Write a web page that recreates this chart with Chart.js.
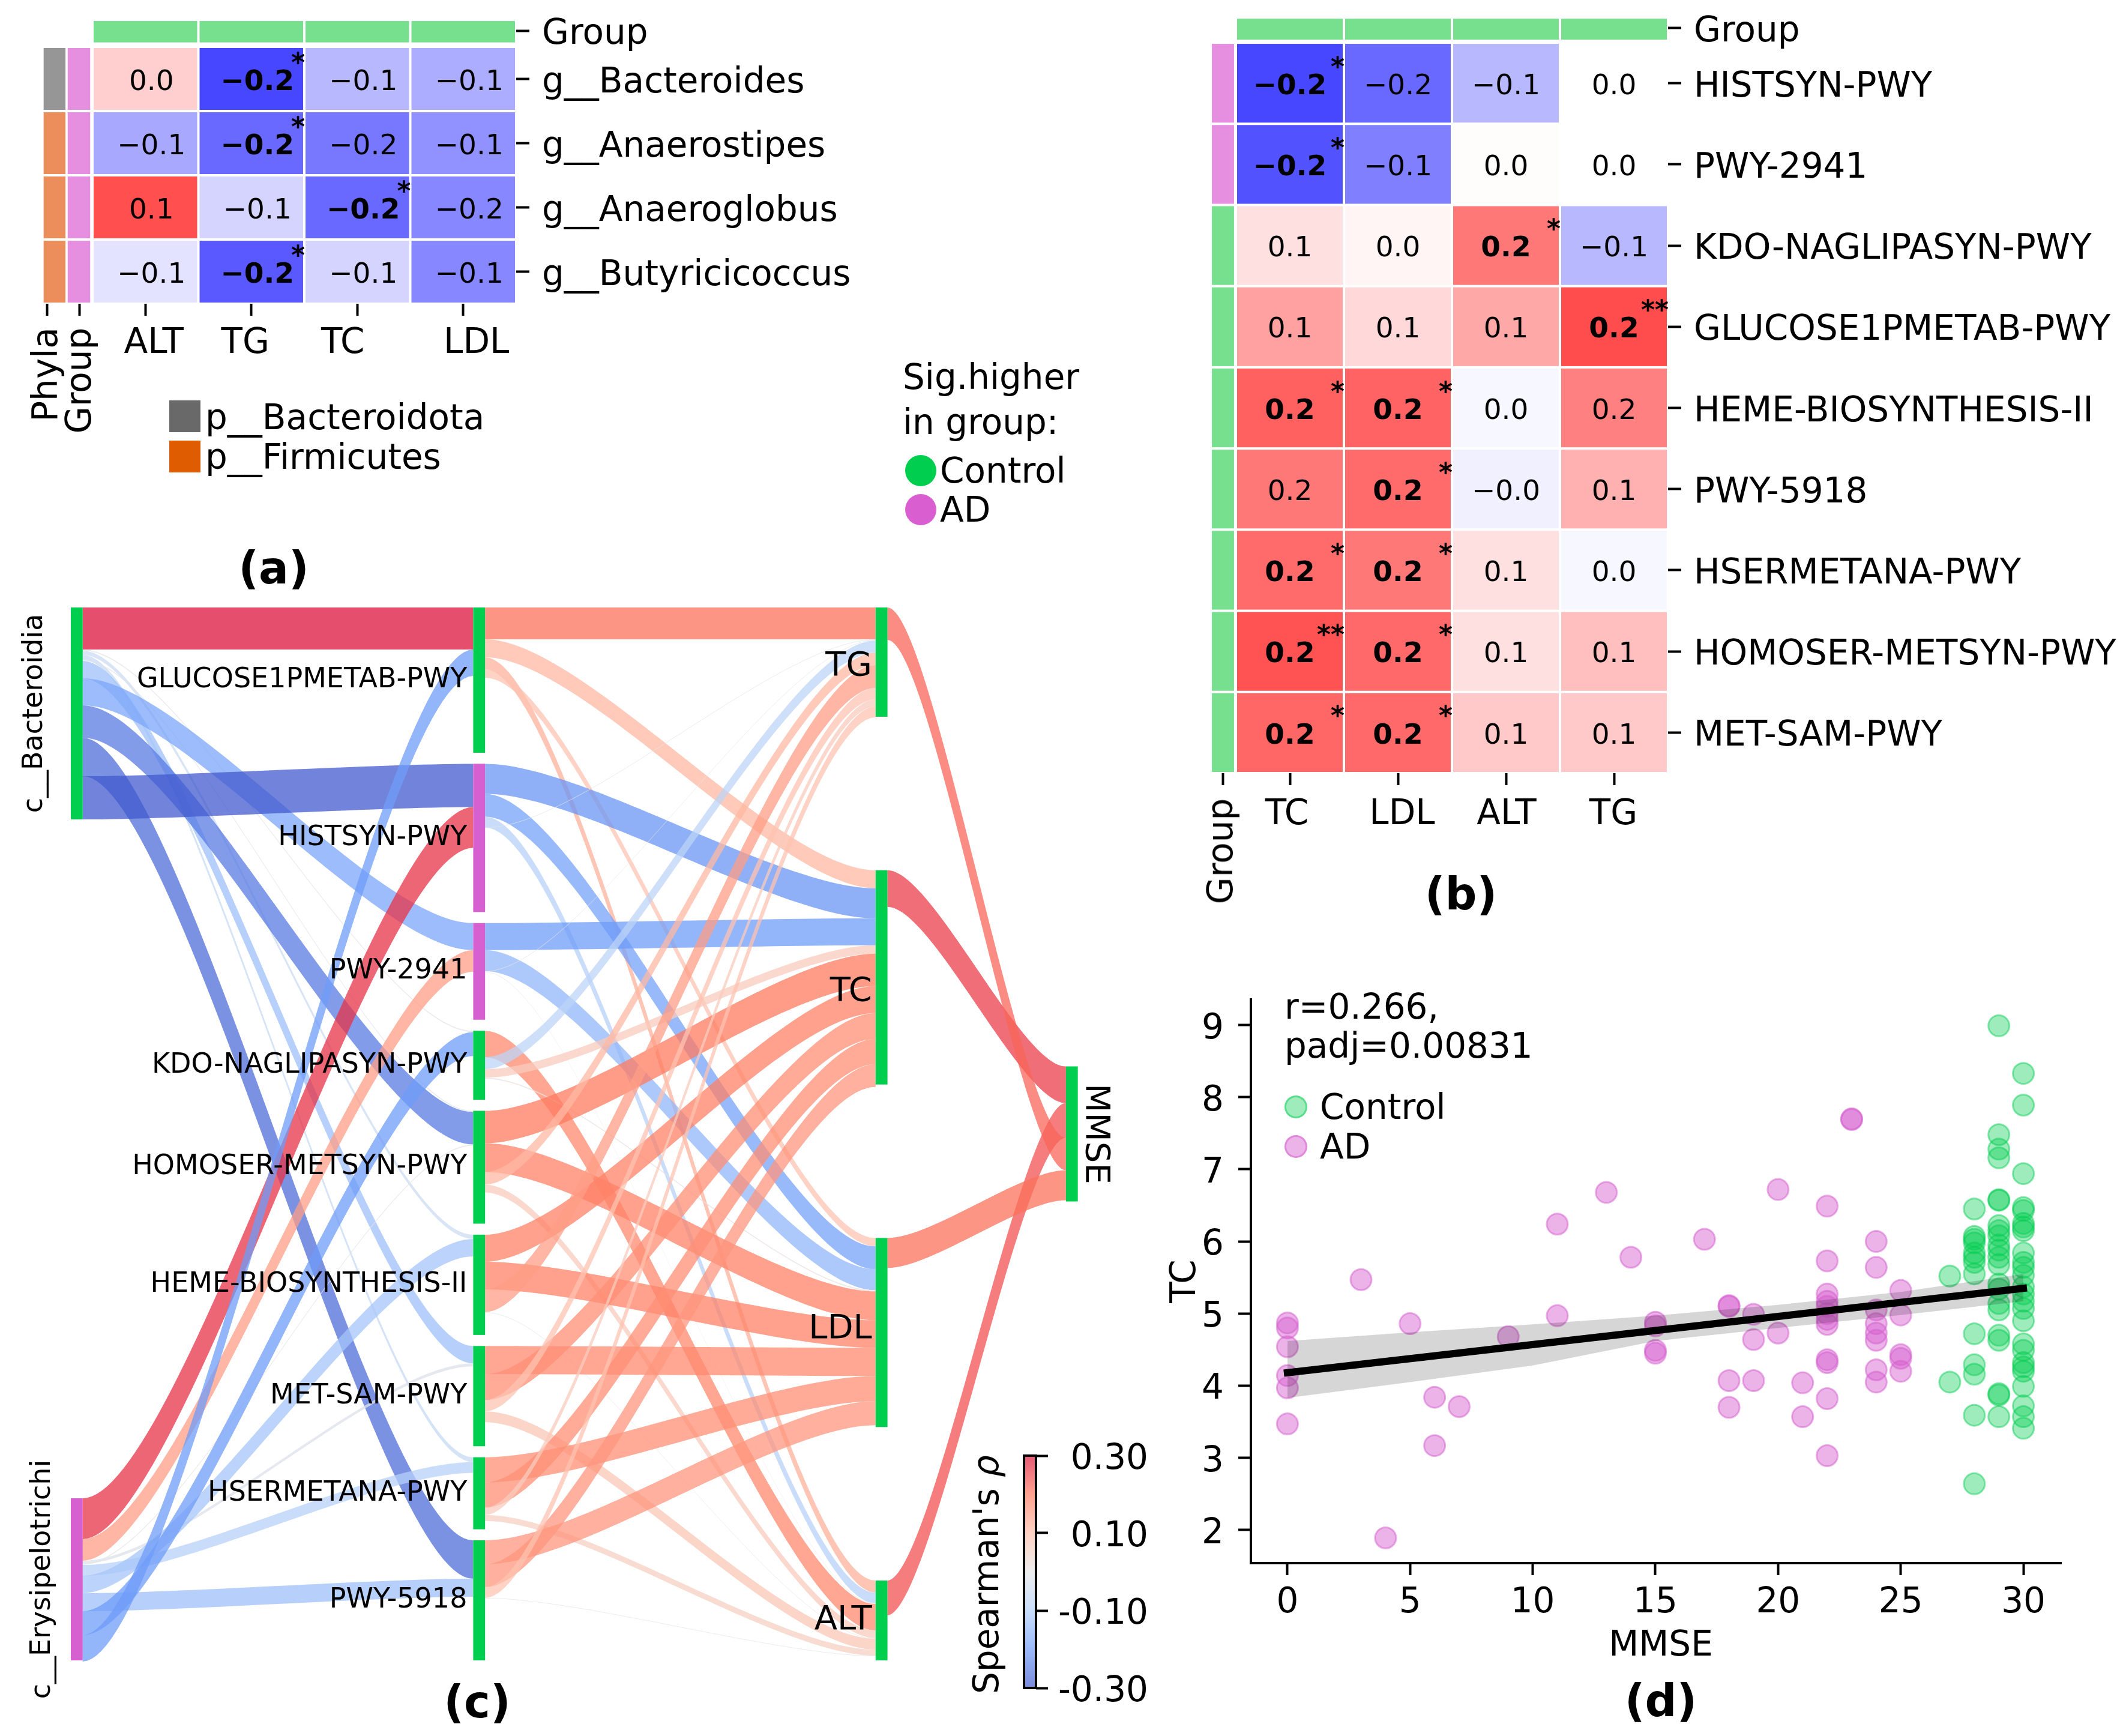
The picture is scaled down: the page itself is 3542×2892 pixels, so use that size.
<!DOCTYPE html>
<html lang="en">
<head>
<meta charset="UTF-8">
<title>Gut microbiome, pathways, lipids and MMSE</title>
<script src="https://cdn.jsdelivr.net/npm/chart.js"></script>
<style>
  html, body { margin: 0; padding: 0; background: #fff; }
  body { position: relative; width: 3542px; height: 2892px; overflow: hidden; font-family: "DejaVu Sans", sans-serif; color: #000; }
  canvas { position: absolute; }
  .t { position: absolute; font-size: 58px; line-height: 1; white-space: nowrap; transform: translate(0, -50%); }
  .c { position: absolute; font-size: 58px; line-height: 1; white-space: nowrap; transform: translate(-50%, -50%); }
  .v { position: absolute; font-size: 58px; line-height: 1; white-space: nowrap; transform: translate(-50%, -50%) rotate(-90deg); }
  .panel { position: absolute; font-size: 74px; font-weight: bold; line-height: 1; transform: translate(-50%, -50%); }
  .sq { position: absolute; width: 52px; height: 53px; }
  .dot { position: absolute; border-radius: 50%; transform: translate(-50%, -50%); box-sizing: border-box; }
</style>
</head>
<body>
<canvas id="heatA" width="1500" height="640" style="left:0;top:-40px"></canvas>
<canvas id="heatB" width="1592" height="1580" style="left:1950px;top:-40px"></canvas>
<canvas id="sankey" width="1960" height="1880" style="left:0;top:1000px"></canvas>
<canvas id="colorbar" width="340" height="500" style="left:1620px;top:2365px"></canvas>
<canvas id="scatter" width="1560" height="1180" style="left:1940px;top:1600px"></canvas>

<div class="v" style="left:75px;top:624px">Phyla</div>
<div class="v" style="left:131px;top:634px">Group</div>
<div class="sq" style="left:282px;top:667px;background:#696969"></div>
<div class="t" style="left:342px;top:695px">p__Bacteroidota</div>
<div class="sq" style="left:282px;top:734px;background:#e05c00"></div>
<div class="t" style="left:342px;top:761px">p__Firmicutes</div>
<div class="panel" style="left:456px;top:946px">(a)</div>

<div class="t" style="left:1504px;top:628px">Sig.higher</div>
<div class="t" style="left:1504px;top:703px">in group:</div>
<div class="dot" style="left:1534px;top:784px;width:52px;height:52px;background:#00ce4e"></div>
<div class="t" style="left:1566px;top:784px">Control</div>
<div class="dot" style="left:1534px;top:849px;width:52px;height:52px;background:#d95fd0"></div>
<div class="t" style="left:1566px;top:849px">AD</div>

<div class="v" style="left:2033px;top:1418px">Group</div>
<div class="panel" style="left:2434px;top:1489px">(b)</div>

<div class="panel" style="left:795px;top:2835px">(c)</div>
<div class="v" style="left:1643px;top:2623px">Spearman's <i>ρ</i></div>

<div class="t" style="left:2140px;top:1677px">r=0.266,</div>
<div class="t" style="left:2140px;top:1742px">padj=0.00831</div>
<div class="dot" style="left:2159px;top:1844px;width:38px;height:38px;background:rgba(0,204,79,.38);border:3px solid rgba(0,204,79,.45)"></div>
<div class="t" style="left:2199px;top:1844px">Control</div>
<div class="dot" style="left:2159px;top:1910px;width:38px;height:38px;background:rgba(214,96,207,.48);border:3px solid rgba(214,96,207,.5)"></div>
<div class="t" style="left:2199px;top:1910px">AD</div>
<div class="c" style="left:2767px;top:2738px">MMSE</div>
<div class="panel" style="left:2767px;top:2833px">(d)</div>

<script>
// ---- panel (a) heatmap
const genera = ['g__Bacteroides', 'g__Anaerostipes', 'g__Anaeroglobus', 'g__Butyricicoccus'];
const colsA = ['ALT', 'TG', 'TC', 'LDL'];
const shadeA = [
  [0.19, -0.72, -0.28, -0.32],
  [-0.34, -0.59, -0.53, -0.43],
  [0.69, -0.17, -0.59, -0.47],
  [-0.11, -0.65, -0.17, -0.47]
];
const textA = [
  ['0.0', '−0.2', '−0.1', '−0.1'],
  ['−0.1', '−0.2', '−0.2', '−0.1'],
  ['0.1', '−0.1', '−0.2', '−0.2'],
  ['−0.1', '−0.2', '−0.1', '−0.1']
];
const sigA = [
  ['', '*', '', ''],
  ['', '*', '', ''],
  ['', '', '*', ''],
  ['', '*', '', '']
];
const phylaA = ['Bacteroidota', 'Firmicutes', 'Firmicutes', 'Firmicutes'];
const groupA = ['AD', 'AD', 'AD', 'AD'];

// ---- panel (b) heatmap
const pathways = ['HISTSYN-PWY', 'PWY-2941', 'KDO-NAGLIPASYN-PWY', 'GLUCOSE1PMETAB-PWY', 'HEME-BIOSYNTHESIS-II',
  'PWY-5918', 'HSERMETANA-PWY', 'HOMOSER-METSYN-PWY', 'MET-SAM-PWY'];
const colsB = ['TC', 'LDL', 'ALT', 'TG'];
const shadeB = [
  [-0.72, -0.59, -0.28, 0],
  [-0.68, -0.5, 0.01, 0],
  [0.12, 0.04, 0.53, -0.28],
  [0.37, 0.15, 0.34, 0.7],
  [0.62, 0.61, -0.03, 0.5],
  [0.53, 0.58, -0.06, 0.31],
  [0.58, 0.53, 0.12, -0.03],
  [0.68, 0.59, 0.12, 0.25],
  [0.6, 0.59, 0.21, 0.21]
];
const textB = [
  ['−0.2', '−0.2', '−0.1', '0.0'],
  ['−0.2', '−0.1', '0.0', '0.0'],
  ['0.1', '0.0', '0.2', '−0.1'],
  ['0.1', '0.1', '0.1', '0.2'],
  ['0.2', '0.2', '0.0', '0.2'],
  ['0.2', '0.2', '−0.0', '0.1'],
  ['0.2', '0.2', '0.1', '0.0'],
  ['0.2', '0.2', '0.1', '0.1'],
  ['0.2', '0.2', '0.1', '0.1']
];
const sigB = [
  ['*', '', '', ''],
  ['*', '', '', ''],
  ['', '', '*', ''],
  ['', '', '', '**'],
  ['*', '*', '', ''],
  ['', '*', '', ''],
  ['*', '*', '', ''],
  ['**', '*', '', ''],
  ['*', '*', '', '']
];
const groupB = ['AD', 'AD', 'Control', 'Control', 'Control', 'Control', 'Control', 'Control', 'Control'];

// ---- panel (c) sankey
const nodeNames = ['c__Bacteroidia', 'c__Erysipelotrichi',
  'GLUCOSE1PMETAB-PWY', 'HISTSYN-PWY', 'PWY-2941', 'KDO-NAGLIPASYN-PWY', 'HOMOSER-METSYN-PWY',
  'HEME-BIOSYNTHESIS-II', 'MET-SAM-PWY', 'HSERMETANA-PWY', 'PWY-5918',
  'TG', 'TC', 'LDL', 'ALT', 'MMSE'];
const nodeColumn = [0, 0, 1, 1, 1, 1, 1, 1, 1, 1, 1, 2, 2, 2, 2, 3];
const nodeGroup = ['Control', 'AD', 'Control', 'AD', 'AD', 'Control', 'Control', 'Control', 'Control', 'Control', 'Control',
  'Control', 'Control', 'Control', 'Control', 'Control'];
const nodeSize = [353, 270, 242, 247, 161, 115, 188, 167, 167, 120, 200, 182, 357, 315, 133, 225];
// one entry per ribbon, listed in the order they leave their source
const flowSource = [
  0, 0, 0, 0, 0, 0, 0, 0, 0, 0,
  1, 1, 1, 1, 1, 1, 1, 1, 1,
  2, 2, 2, 2, 3, 3, 3, 3, 4, 4, 4, 4, 5, 5, 5, 5, 6, 6, 6, 6,
  7, 7, 7, 7, 8, 8, 8, 8, 9, 9, 9, 9, 10, 10, 10, 10,
  12, 14, 11, 13];
const flowTarget = [
  2, 5, 7, 9, 6, 8, 4, 6, 10, 3,
  3, 4, 8, 6, 9, 7, 10, 5, 2,
  11, 12, 14, 13, 12, 13, 14, 11, 12, 13, 11, 14, 14, 11, 12, 13, 12, 13, 11, 14,
  12, 13, 11, 14, 13, 12, 11, 14, 13, 12, 11, 14, 13, 12, 11, 14,
  15, 15, 15, 15];
const flowSize = [
  70, 2, 7, 8, 2, 29, 45, 54, 64, 72,
  68, 36, 5, 2, 18, 29, 30, 40, 44,
  53, 30, 20, 14, 50, 38, 18, 1, 45, 35, 1, 1, 44, 20, 14, 2, 54, 48, 21, 13,
  45, 46, 38, 1, 47, 43, 19, 18, 42, 42, 12, 10, 40, 38, 18, 1,
  61, 58, 54, 50];
const flowRho = [
  0.30, -0.01, -0.05, -0.06, -0.01, -0.13, -0.18, -0.25, -0.27, -0.30,
  0.27, 0.15, -0.02, 0, -0.09, -0.12, -0.13, -0.20, -0.20,
  0.21, 0.11, 0.12, 0.09, -0.21, -0.19, -0.09, -0.01, -0.20, -0.15, 0, 0, 0.18, -0.08, 0.07, 0.01, 0.20, 0.19, 0.11, 0.07,
  0.19, 0.19, 0.15, 0, 0.18, 0.17, 0.09, 0.08, 0.17, 0.17, 0.07, 0.06, 0.16, 0.16, 0.09, 0,
  0.26, 0.24, 0.22, 0.21];
const cbarTicks = [0.3, 0.1, -0.1, -0.3];
const cbarLabels = ['0.30', '0.10', '-0.10', '-0.30'];
const rhoStops = [-0.3, -0.2, -0.1, 0, 0.1, 0.2, 0.3];
const rhoRgb = [[65, 90, 205], [111, 156, 248], [178, 208, 251], [230, 230, 230], [255, 191, 170], [255, 123, 96], [220, 20, 60]];

// ---- panel (d) scatter
const adMmse = [0, 0, 0, 0, 0, 0, 3, 4, 5, 6, 6, 7, 9, 11, 11, 13, 14, 15, 15, 15, 15, 17,
  18, 18, 18, 18, 19, 19, 19, 20, 20, 21, 21,
  22, 22, 22, 22, 22, 22, 22, 22, 22, 22, 22, 22, 23, 23,
  24, 24, 24, 24, 24, 24, 24, 24, 25, 25, 25, 25, 25];
const adTc = [4.87, 4.80, 4.54, 4.14, 3.97, 3.47, 5.47, 1.89, 4.86, 3.84, 3.17, 3.71, 4.68, 6.24, 4.97, 6.68, 5.78, 4.88, 4.83, 4.49, 4.45, 6.03,
  5.11, 5.10, 4.07, 3.70, 4.99, 4.64, 4.07, 6.72, 4.73, 4.04, 3.57,
  6.49, 5.73, 5.27, 5.17, 5.10, 5.00, 4.92, 4.85, 4.36, 4.32, 3.82, 3.03, 7.69, 7.70,
  6.00, 5.64, 5.05, 4.86, 4.73, 4.63, 4.22, 4.05, 5.32, 4.98, 4.43, 4.38, 4.20];
const ctrlMmse = [27, 27,
  28, 28, 28, 28, 28, 28, 28, 28, 28, 28, 28, 28, 28,
  29, 29, 29, 29, 29, 29, 29, 29, 29, 29, 29, 29, 29, 29, 29, 29, 29, 29, 29, 29, 29, 29,
  30, 30, 30, 30, 30, 30, 30, 30, 30, 30, 30, 30, 30, 30, 30, 30, 30, 30, 30, 30, 30, 30, 30, 30, 30, 30];
const ctrlTc = [5.52, 4.05,
  6.45, 6.07, 6.03, 5.98, 5.84, 5.78, 5.71, 5.55, 4.72, 4.29, 4.16, 3.59, 2.64,
  8.99, 7.48, 7.28, 7.16, 6.58, 6.57, 6.22, 6.15, 6.08, 5.95, 5.88, 5.78, 5.68, 5.41, 5.34, 5.14, 5.05, 4.70, 4.63, 3.89, 3.87, 3.57,
  8.33, 7.89, 6.94, 6.47, 6.43, 6.25, 6.20, 6.15, 5.84, 5.71, 5.64, 5.53, 5.37, 5.27, 5.17, 5.07, 4.90, 4.58, 4.49, 4.32, 4.26, 4.20, 3.99, 3.72, 3.57, 3.41];
const fitMmse = [0, 30];
const fitTc = [4.18, 5.35];
const ciMmse = [0, 5, 10, 15, 20, 25, 30];
const ciUpper = [4.62, 4.74, 4.85, 4.97, 5.12, 5.30, 5.55];
const ciLower = [3.83, 4.05, 4.28, 4.62, 4.80, 4.98, 5.17];
const mmseTicks = [0, 5, 10, 15, 20, 25, 30];
const tcTicks = [2, 3, 4, 5, 6, 7, 8, 9];

// ---- colours
const groupColor = { Control: '#77e08f', AD: '#e68fe0' };
const nodeColor = { Control: '#00ce4e', AD: '#d660cf' };
const phylaColor = { Bacteroidota: '#969696', Firmicutes: '#eb8e5c' };

Chart.defaults.font.family = '"DejaVu Sans", sans-serif';
Chart.defaults.color = '#000';
Chart.defaults.animation = false;
Chart.defaults.devicePixelRatio = 1;

function bwr(s) {
  const c = Math.round(255 * (1 - Math.abs(s)));
  return s < 0 ? `rgb(${c},${c},255)` : `rgb(255,${c},${c})`;
}

function rhoColor(rho, alpha) {
  let i = 0;
  while (i < rhoStops.length - 2 && rho > rhoStops[i + 1]) i++;
  const t = (rho - rhoStops[i]) / (rhoStops[i + 1] - rhoStops[i]);
  const c = rhoRgb[i].map((v, k) => Math.round(v + (rhoRgb[i + 1][k] - v) * t));
  return `rgba(${c[0]},${c[1]},${c[2]},${alpha})`;
}

// canvas text sits a little high against the reference, so the y tick labels are
// written here instead of by the axis: same ticks, same scale, 7px lower
function yTickText(labels, align, dx) {
  return {
    id: 'yTickText',
    afterDraw(chart) {
      const { ctx } = chart;
      const s = chart.scales.y;
      ctx.save();
      ctx.font = '58px "DejaVu Sans"';
      ctx.fillStyle = '#000';
      ctx.textAlign = align;
      ctx.textBaseline = 'middle';
      s.ticks.forEach((t, i) => ctx.fillText(labels[i], s.left + dx, s.getPixelForValue(t.value) + 7));
      ctx.restore();
    }
  };
}

// heatmap: cells sit on a linear x (columns) and a reversed linear y (rows)
function heatChart(id, o) {
  const cellPlugin = {
    id: 'cells',
    afterDatasetsDraw(chart) {
      const { ctx } = chart;
      const x = chart.scales.x, y = chart.scales.y;
      const rect = (x0, x1, y0, y1, color) => {
        const l = x.getPixelForValue(x0), r = x.getPixelForValue(x1);
        const t = y.getPixelForValue(y0), b = y.getPixelForValue(y1);
        ctx.fillStyle = color;
        ctx.fillRect(l + 2, t + 2, r - l - 4, b - t - 4);
      };
      ctx.save();
      o.cols.forEach((c, j) => rect(j, j + 1, o.topBar[0], o.topBar[1], groupColor.Control));
      o.rows.forEach((name, i) => {
        rect(o.groupBar[0], o.groupBar[1], i, i + 1, groupColor[o.groups[i]]);
        if (o.phyla) rect(o.phylaBar[0], o.phylaBar[1], i, i + 1, phylaColor[o.phyla[i]]);
        o.cols.forEach((c, j) => rect(j, j + 1, i, i + 1, bwr(o.shade[i][j])));
      });
      ctx.fillStyle = '#000';
      o.rows.forEach((name, i) => {
        const cy = y.getPixelForValue(i + 0.5);
        o.cols.forEach((c, j) => {
          const cx = x.getPixelForValue(j + 0.5);
          const star = o.sig[i][j];
          ctx.font = `${star ? 'bold ' : ''}47px "DejaVu Sans"`;
          ctx.textAlign = 'center';
          ctx.textBaseline = 'middle';
          ctx.fillText(o.text[i][j], cx + o.textShift, cy + 6);
          if (star) {
            ctx.font = 'bold 44px "DejaVu Sans"';
            ctx.textAlign = 'right';
            ctx.textBaseline = 'alphabetic';
            ctx.fillText(star, x.getPixelForValue(j + 1) + 1, cy - 13);
          }
        });
      });
      ctx.font = '58px "DejaVu Sans"';
      ctx.textAlign = 'center';
      ctx.textBaseline = 'middle';
      o.cols.forEach((c, j) => {
        ctx.fillText(c, x.getPixelForValue(j + 0.5) + o.colShift[j], y.bottom + o.colLabelGap);
      });
      ctx.restore();
    }
  };
  return new Chart(document.getElementById(id), {
    type: 'scatter',
    data: { datasets: [] },
    plugins: [cellPlugin, yTickText(['Group'].concat(o.rows), 'left', 43)],
    options: {
      responsive: false,
      layout: { padding: { left: o.padLeft, top: o.padTop } },
      plugins: { legend: { display: false }, tooltip: { enabled: false } },
      scales: {
        x: {
          type: 'linear', min: o.xMin, max: o.cols.length,
          border: { display: false },
          grid: { drawOnChartArea: false, drawTicks: true, tickLength: 20, tickWidth: 4, tickColor: '#000' },
          ticks: { display: false },
          afterBuildTicks: s => { s.ticks = o.xTickAt.map(v => ({ value: v })); },
          afterFit: s => { s.height = o.axisHeight; }
        },
        y: {
          type: 'linear', position: 'right', reverse: true, min: o.yMin, max: o.rows.length,
          border: { display: false },
          grid: { drawOnChartArea: false, drawTicks: true, tickLength: 22, tickWidth: 4, tickColor: '#000' },
          ticks: { display: false },
          afterBuildTicks: s => { s.ticks = [o.groupTick].concat(o.rows.map((r, i) => i + 0.5)).map(v => ({ value: v })); },
          afterFit: s => { s.width = o.axisWidth; }
        }
      }
    }
  });
}

heatChart('heatA', {
  rows: genera, cols: colsA, shade: shadeA, text: textA, sig: sigA, groups: groupA, phyla: phylaA,
  xMin: -0.5, yMin: -0.45, padLeft: 65.75, padTop: 69.85, axisWidth: 640, axisHeight: 94,
  topBar: [-0.42, -0.05], groupBar: [-0.245, -0.01], phylaBar: [-0.472, -0.243], groupTick: -0.25,
  xTickAt: [-0.43, -0.119, 0.5, 1.5, 2.5, 3.5], colShift: [14, -10, -24, 22], colLabelGap: 67, textShift: 10
});

heatChart('heatB', {
  rows: pathways, cols: colsB, shade: shadeB, text: textB, sig: sigB, groups: groupB,
  xMin: -0.25, yMin: -0.33, padLeft: 64, padTop: 66.4, axisWidth: 763, axisHeight: 252,
  topBar: [-0.31, -0.022], groupBar: [-0.233, -0.006], groupTick: -0.178,
  xTickAt: [-0.122, 0.5, 1.5, 2.5, 3.5], colShift: [-5, 7, 1, -1], colLabelGap: 70, textShift: 0
});

// ---- sankey layout: nodes spread evenly over the column height, ribbons stacked in each node
const sankeyHeight = 1754;
const columnPos = [0, 1, 2, 2.473];
const nodeWidth = 0.0295;
const curvature = 0.25;
const nodeLabelNudge = { TG: 7, TC: 24, LDL: -5 };
const nodeTop = [];
columnPos.forEach((p, col) => {
  const ids = nodeNames.map((n, i) => i).filter(i => nodeColumn[i] === col);
  const total = ids.reduce((s, i) => s + nodeSize[i], 0);
  const gap = ids.length > 1 ? (sankeyHeight - total) / (ids.length - 1) : 0;
  let y = ids.length > 1 ? 0 : (sankeyHeight - total) / 2;
  ids.forEach(i => { nodeTop[i] = y; y += nodeSize[i] + gap; });
});
const outCursor = nodeTop.slice();
const flowOut = flowSource.map((s, i) => { const y = outCursor[s]; outCursor[s] += flowSize[i]; return y; });
const flowIn = [];
nodeNames.forEach((n, t) => {
  const ids = flowTarget.map((v, i) => i).filter(i => flowTarget[i] === t);
  if (nodeColumn[t] < 3) ids.sort((a, b) => flowSource[a] - flowSource[b] || a - b);
  let y = nodeTop[t];
  ids.forEach(i => { flowIn[i] = y; y += flowSize[i]; });
});

const sankeyPlugin = {
  id: 'sankeyDraw',
  afterDatasetsDraw(chart) {
    const { ctx } = chart;
    const x = chart.scales.x, y = chart.scales.y;
    ctx.save();
    flowSource.forEach((s, i) => {
      const t = flowTarget[i];
      const x0 = x.getPixelForValue(columnPos[nodeColumn[s]] + nodeWidth);
      const x1 = x.getPixelForValue(columnPos[nodeColumn[t]]);
      const c0 = x0 + (x1 - x0) * curvature, c1 = x1 - (x1 - x0) * curvature;
      const a0 = y.getPixelForValue(flowOut[i]), a1 = y.getPixelForValue(flowIn[i]);
      const b0 = y.getPixelForValue(flowOut[i] + flowSize[i]), b1 = y.getPixelForValue(flowIn[i] + flowSize[i]);
      ctx.beginPath();
      ctx.moveTo(x0, a0);
      ctx.bezierCurveTo(c0, a0, c1, a1, x1, a1);
      ctx.lineTo(x1, b1);
      ctx.bezierCurveTo(c1, b1, c0, b0, x0, b0);
      ctx.closePath();
      ctx.fillStyle = rhoColor(flowRho[i], 0.75);
      ctx.fill();
    });
    nodeNames.forEach((name, i) => {
      const col = nodeColumn[i];
      const l = x.getPixelForValue(columnPos[col]), r = x.getPixelForValue(columnPos[col] + nodeWidth);
      const t = y.getPixelForValue(nodeTop[i]), b = y.getPixelForValue(nodeTop[i] + nodeSize[i]);
      ctx.fillStyle = nodeColor[nodeGroup[i]];
      ctx.fillRect(l, t, r - l, b - t);
      ctx.fillStyle = '#000';
      const mid = (t + b) / 2;
      if (col === 1 || col === 2) {
        ctx.font = `${col === 1 ? 46 : 56}px "DejaVu Sans"`;
        ctx.textAlign = 'right';
        ctx.textBaseline = 'middle';
        ctx.fillText(name, l - (col === 1 ? 10 : 6), mid + (nodeLabelNudge[name] || 0));
      } else {
        ctx.save();
        ctx.font = `${col === 0 ? 46 : 56}px "DejaVu Sans"`;
        ctx.textAlign = 'center';
        if (col === 0) {
          ctx.translate(l - (i === 0 ? 48 : 35), mid);
          ctx.rotate(-Math.PI / 2);
          ctx.textBaseline = 'alphabetic';
        } else {
          ctx.translate(r + 29, mid);
          ctx.rotate(Math.PI / 2);
          ctx.textBaseline = 'middle';
        }
        ctx.fillText(name, 0, 0);
        ctx.restore();
      }
    });
    ctx.restore();
  }
};

new Chart(document.getElementById('sankey'), {
  type: 'scatter',
  data: { datasets: [] },
  plugins: [sankeyPlugin],
  options: {
    responsive: false,
    layout: { padding: { left: 118, right: 166, top: 12, bottom: 114 } },
    plugins: { legend: { display: false }, tooltip: { enabled: false } },
    scales: {
      x: { type: 'linear', display: false, min: 0, max: 2.5 },
      y: { type: 'linear', display: false, reverse: true, min: 0, max: sankeyHeight }
    }
  }
});

// ---- colour bar
const cbarFrame = {
  id: 'cbarFrame',
  afterDraw(chart) {
    const { ctx, chartArea: a } = chart;
    ctx.save();
    ctx.strokeStyle = '#000';
    ctx.lineWidth = 4;
    ctx.strokeRect(a.left, a.top, a.right - a.left, a.bottom - a.top);
    ctx.restore();
  }
};

new Chart(document.getElementById('colorbar'), {
  type: 'bar',
  data: {
    labels: ["Spearman's rho"],
    datasets: [{
      data: [[cbarTicks[3], cbarTicks[0]]],
      barPercentage: 1,
      categoryPercentage: 1,
      borderSkipped: false,
      borderWidth: 0,
      backgroundColor: c => {
        const area = c.chart.chartArea;
        if (!area) return '#ccc';
        const g = c.chart.ctx.createLinearGradient(0, area.bottom, 0, area.top);
        rhoStops.forEach((r, i) => g.addColorStop(i / (rhoStops.length - 1), rhoColor(r, 0.7)));
        return g;
      }
    }]
  },
  plugins: [cbarFrame, yTickText(cbarLabels.slice().reverse(), 'right', 187)],
  options: {
    responsive: false,
    layout: { padding: { left: 86, top: 60, bottom: 53 } },
    plugins: {
      legend: { display: false },
      tooltip: { enabled: false }
    },
    scales: {
      x: { display: false },
      y: {
        position: 'right', min: cbarTicks[3], max: cbarTicks[0],
        border: { display: false },
        grid: { drawOnChartArea: false, drawTicks: true, tickLength: 20, tickWidth: 4, tickColor: '#000' },
        ticks: { display: false },
        afterBuildTicks: s => { s.ticks = cbarTicks.slice().reverse().map(v => ({ value: v })); },
        afterFit: s => { s.width = 234; }
      }
    }
  }
});

// ---- scatter with regression band
new Chart(document.getElementById('scatter'), {
  type: 'scatter',
  data: {
    datasets: [
      {
        type: 'line', label: 'fit', order: 1, data: fitMmse.map((x, i) => ({ x, y: fitTc[i] })),
        borderColor: '#000', borderWidth: 12, borderCapStyle: 'square', pointRadius: 0, fill: false
      },
      {
        type: 'line', label: 'ci upper', order: 2, data: ciMmse.map((x, i) => ({ x, y: ciUpper[i] })),
        borderWidth: 0, pointRadius: 0, fill: '+1', backgroundColor: 'rgba(0,0,0,0.16)'
      },
      {
        type: 'line', label: 'ci lower', order: 2, data: ciMmse.map((x, i) => ({ x, y: ciLower[i] })),
        borderWidth: 0, pointRadius: 0, fill: false
      },
      {
        label: 'AD', order: 3, data: adMmse.map((x, i) => ({ x, y: adTc[i] })),
        pointRadius: 17.5, borderWidth: 3, backgroundColor: 'rgba(214,96,207,0.48)', borderColor: 'rgba(214,96,207,0.5)'
      },
      {
        label: 'Control', order: 3, data: ctrlMmse.map((x, i) => ({ x, y: ctrlTc[i] })),
        pointRadius: 17.5, borderWidth: 3, backgroundColor: 'rgba(0,204,79,0.38)', borderColor: 'rgba(0,204,79,0.45)'
      }
    ]
  },
  plugins: [yTickText(tcTicks, 'right', 98)],
  options: {
    responsive: false,
    layout: { padding: { left: 1, top: 65, right: 66 } },
    plugins: { legend: { display: false }, tooltip: { enabled: false } },
    scales: {
      x: {
        type: 'linear', min: -1.49, max: 31.54,
        border: { display: true, color: '#000', width: 4 },
        grid: { drawOnChartArea: false, drawTicks: true, tickLength: 20, tickWidth: 4, tickColor: '#000' },
        ticks: { autoSkip: false, padding: 12, maxRotation: 0, font: { size: 58 }, color: '#000', callback: v => String(v) },
        afterBuildTicks: s => { s.ticks = mmseTicks.map(v => ({ value: v })); },
        afterFit: s => { s.height = 176; }
      },
      y: {
        type: 'linear', min: 1.54, max: 9.355,
        border: { display: true, color: '#000', width: 4 },
        grid: { drawOnChartArea: false, drawTicks: true, tickLength: 21, tickWidth: 4, tickColor: '#000' },
        ticks: { display: false },
        title: { display: true, text: 'TC', font: { size: 58 }, color: '#000', padding: 0 },
        afterBuildTicks: s => { s.ticks = tcTicks.map(v => ({ value: v })); },
        afterFit: s => { s.width = 143; }
      }
    }
  }
});
</script>
</body>
</html>
